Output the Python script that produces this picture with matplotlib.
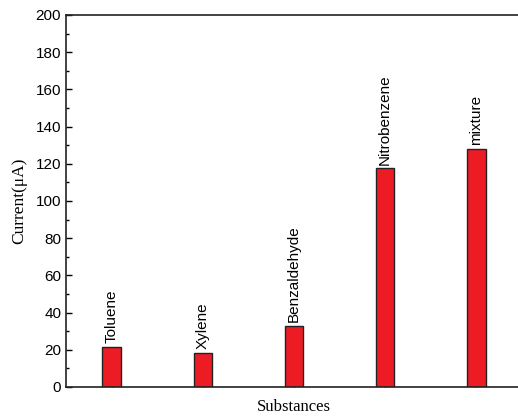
import numpy as np
import matplotlib
matplotlib.use("Agg")
import matplotlib.pyplot as plt

# -------------------------------------------------------------------
# Data
# -------------------------------------------------------------------
substances = ["Toluene", "Xylene", "Benzaldehyde", "Nitrobenzene", "mixture"]
current = [21.5, 18.3, 33.0, 117.5, 128.0]

# -------------------------------------------------------------------
# Figure
# -------------------------------------------------------------------
fig = plt.figure(figsize=(5.18, 4.16), dpi=100)
# axes runs slightly past the right edge, as in the reference crop
ax = fig.add_axes([66 / 518, 29 / 416, 456 / 518, 372 / 416])

x = np.arange(1, len(substances) + 1)
ax.bar(x, current, width=0.2, color="#ed1c24", edgecolor="#222222",
       linewidth=1.0, zorder=2)

for xi, val, name in zip(x, current, substances):
    ax.text(xi, val + 2.0, name, rotation=90, ha="center", va="bottom",
            fontsize=11, family="Liberation Sans")

ax.set_xlim(0.5, 5.5)
ax.set_ylim(0, 200)
ax.set_xticks(x)
ax.set_xticklabels([])
ax.set_yticks(np.arange(0, 201, 20))
ax.set_yticks(np.arange(0, 201, 10), minor=True)
ax.tick_params(axis="both", which="major", direction="in", length=4,
               width=1, labelsize=11, zorder=3)
ax.tick_params(axis="y", which="minor", direction="in", length=2.5, width=1)
for lab in ax.get_yticklabels():
    lab.set_family("Liberation Sans")

for sp in ax.spines.values():
    sp.set_linewidth(1.2)
    sp.set_color("#222222")

ax.set_xlabel("Substances", family="Liberation Serif", fontsize=12, labelpad=5)
ax.set_ylabel("Current(\u03bcA)", family="Liberation Serif", fontsize=12.5, labelpad=6)

fig.savefig("out.png", dpi=100)
